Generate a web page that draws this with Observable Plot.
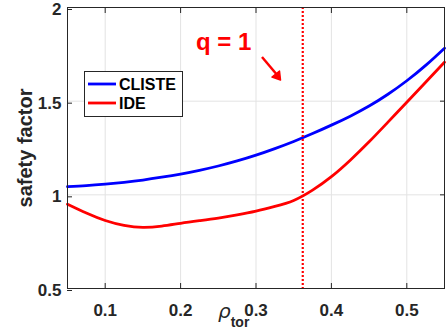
<!DOCTYPE html>
<html><head><meta charset="utf-8">
<script src="https://cdn.jsdelivr.net/npm/d3@7"></script>
<script src="https://cdn.jsdelivr.net/npm/@observablehq/plot@0.6"></script>
<style>body{margin:0;background:#fff}#chart{width:446px;height:330px}</style>
</head><body><div id="chart"></div>
<script>
const rho = [0.05,0.075,0.1,0.125,0.15,0.175,0.2,0.225,0.25,0.275,0.3,0.325,0.35,0.375,0.4,0.425,0.45,0.475,0.5,0.525,0.55];
const qCliste = [1.044,1.049,1.057,1.067,1.079,1.094,1.111,1.131,1.154,1.181,1.212,1.247,1.285,1.327,1.372,1.420,1.474,1.537,1.609,1.691,1.783];
const qIde = [0.950,0.903,0.863,0.837,0.826,0.833,0.848,0.862,0.876,0.893,0.913,0.938,0.970,1.025,1.097,1.185,1.283,1.388,1.494,1.601,1.708];
const qOneRho = [0.362];
const seriesNames = ["CLISTE","IDE"];
const seriesColors = ["#0000ff","#ff0000"];
const xTicks = [0.1,0.2,0.3,0.4,0.5];
const yTicks = [0.5,1,1.5,2];
const annotation = "q = 1";
const yLabel = "safety factor";

const rows = [];
rho.forEach((r,i)=>{rows.push({rho:r,q:qCliste[i],s:seriesNames[0]});});
rho.forEach((r,i)=>{rows.push({rho:r,q:qIde[i],s:seriesNames[1]});});

const font = "'Liberation Sans', Arial, sans-serif";
const plot = Plot.plot({
  width:446, height:330,
  marginLeft:67, marginRight:2, marginTop:7, marginBottom:42,
  style:{fontFamily:font, background:"#fff", color:"#262626", overflow:"visible"},
  x:{domain:[0.05,0.55]},
  y:{domain:[0.5,2]},
  color:{domain:seriesNames, range:seriesColors},
  marks:[
    Plot.gridX(xTicks,{stroke:"#e3e3e3", strokeOpacity:1}),
    Plot.gridY(yTicks,{stroke:"#e3e3e3", strokeOpacity:1}),
    Plot.line(rows,{x:"rho", y:"q", z:"s", stroke:"s", strokeWidth:2.8, curve:"natural"}),
    Plot.ruleX(qOneRho,{stroke:"#ff0000", strokeWidth:2.2, strokeDasharray:"2,2"}),
    Plot.frame({stroke:"#262626"}),
    Plot.axisX(xTicks,{tickSize:-5, tickPadding:20, tickFormat:d=>String(d), fontSize:17, fontWeight:"bold", label:null}),
    Plot.axisX(xTicks,{anchor:"top", tickSize:-5, tickFormat:()=>"", label:null}),
    Plot.axisY(yTicks,{tickSize:-5, tickPadding:11, dy:2, tickFormat:d=>String(d), fontSize:17, fontWeight:"bold", label:null}),
    Plot.axisY(yTicks,{anchor:"right", tickSize:-5, tickFormat:()=>"", label:null}),
    Plot.text([yLabel],{frameAnchor:"left", textAnchor:"middle", lineAnchor:"middle", rotate:-90, dx:-42, fontSize:20, fontWeight:"bold", fill:"#262626"})
  ]
});
document.getElementById("chart").appendChild(plot);

const svg = d3.select(plot);
const g = svg.append("g").attr("text-anchor","start");
// legend
g.append("rect").attr("x",84.5).attr("y",71.5).attr("width",98).attr("height",45)
  .attr("fill","#fff").attr("stroke","#262626");
seriesNames.forEach((n,i)=>{
  const yy = 84 + i*19;
  g.append("line").attr("x1",88).attr("x2",116).attr("y1",yy).attr("y2",yy)
    .attr("stroke",seriesColors[i]).attr("stroke-width",2.8);
  g.append("text").attr("x",119).attr("y",yy).attr("dy","0.36em")
    .attr("font-family",font).attr("font-size",16).attr("font-weight","bold").attr("fill","#000").text(n);
});
// q = 1 annotation
g.append("text").attr("x",196).attr("y",50).attr("font-family",font).attr("font-size",24)
  .attr("font-weight","bold").attr("fill","#ff0000").text(annotation);
g.append("line").attr("x1",262).attr("y1",57).attr("x2",278).attr("y2",76)
  .attr("stroke","#ff0000").attr("stroke-width",2.5);
g.append("path").attr("d","M272,77 L280.5,80 L279.5,71 Z").attr("fill","#ff0000").attr("stroke","#ff0000").attr("stroke-width",1.5).attr("stroke-linejoin","round");
// x label
const xl = g.append("text").attr("x",218).attr("y",318).attr("fill","#262626");
xl.append("tspan").attr("font-family","'DejaVu Sans', sans-serif").attr("font-style","italic").attr("font-size",20).text("ρ");
xl.append("tspan").attr("font-family",font).attr("font-weight","bold").attr("font-size",14).attr("dy",9).text("tor");
</script>
</body></html>
